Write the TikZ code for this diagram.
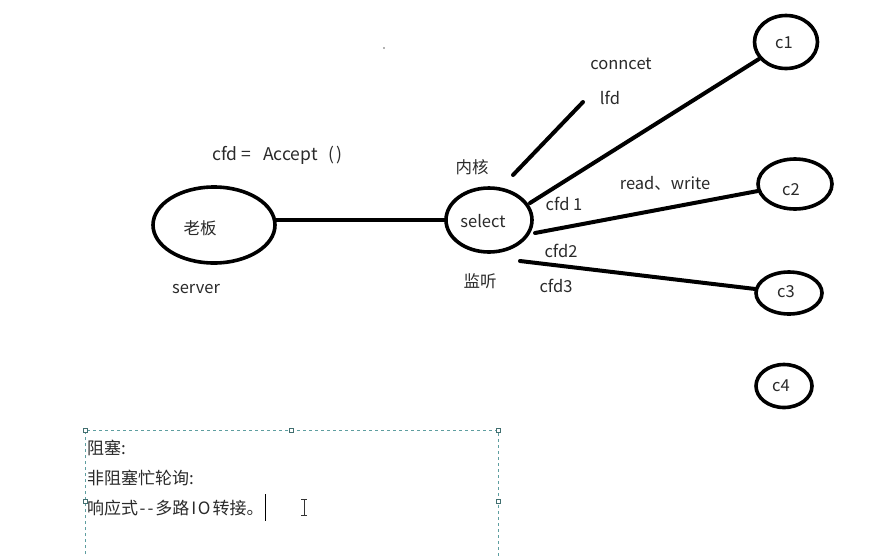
\documentclass[tikz,border=0pt]{standalone}
\usepackage{fontspec}
\setmainfont{Noto Sans CJK SC}
\usetikzlibrary{shapes.geometric}
\definecolor{txt}{HTML}{2A2A2A}
\definecolor{boxc}{HTML}{5E9EA0}
\begin{document}
\begin{tikzpicture}[x=1pt,y=-1pt,
  ell/.style={draw=black,line width=3.6pt,ellipse,inner sep=0pt},
  lbl/.style={text=txt,font=\fontsize{16.5}{19}\selectfont,inner sep=0pt},
  cn/.style={text=txt,font=\fontsize{17}{19}\selectfont,inner sep=0pt,anchor=west},
  wire/.style={line width=4pt,line cap=round},
  handle/.style={draw=boxc!70!black,fill=white,line width=0.6pt,minimum size=4pt,inner sep=0pt,rectangle}]
\useasboundingbox (0,0) rectangle (878,555);
\fill[white] (0,0) rectangle (878,555);
% ellipses
\node[ell,minimum width=122pt,minimum height=76pt] (boss) at (214,225) {};
\node[ell,minimum width=86pt,minimum height=64pt] (sel) at (489,220) {};
\node[ell,minimum width=63pt,minimum height=53pt] (c1) at (786,42) {};
\node[ell,minimum width=74pt,minimum height=50pt] (c2) at (795,184) {};
\node[ell,minimum width=66pt,minimum height=42pt] (c3) at (789,293) {};
\node[ell,minimum width=56pt,minimum height=43pt] (c4) at (784,386) {};
% labels in ellipses
\node[lbl] (tboss) at (200,228) {老板};
\node[lbl] (tsel) at (483,221) {select};
\node[lbl] (tc1) at (784,43) {c1};
\node[lbl] (tc2) at (791,190) {c2};
\node[lbl] (tc3) at (786,292) {c3};
\node[lbl] (tc4) at (781,386) {c4};
% other labels
\node[lbl,anchor=west,font=\fontsize{17.5}{19}\selectfont] (tacc) at (212,155) {cfd\hspace{4pt}=\hspace{12pt}Accept\hspace{11pt}(\hspace{2pt})};
\node[lbl] (tsrv) at (196,289) {server};
\node[lbl] (tcon) at (621,64) {conncet};
\node[lbl] (tlfd) at (610,98) {lfd};
\node[lbl] (tnh) at (472,167) {内核};
\node[lbl] (tcfd1) at (564,204) {cfd 1};
\node[lbl] (trw) at (665,183) {read、write};
\node[lbl] (tcfd2) at (561,251) {cfd2};
\node[lbl] (tjt) at (480,281) {监听};
\node[lbl] (tcfd3) at (556,286) {cfd3};
% connectors
\draw[wire] (boss.east |- sel.west) -- (sel.west);
\coordinate (la) at (513,175);
\coordinate (lb) at (583,102);
\draw[wire] (la) -- (lb);
\coordinate (s1) at (530,203);
\coordinate (s2) at (535,233);
\coordinate (s3) at (520,261);
\draw[wire] (s1) -- (c1);
\draw[wire] (s2) -- (c2);
\draw[wire] (s3) -- (c3);
\fill[black!60] (384,48) circle (0.8pt);
% text box
\draw[boxc,line width=0.7pt,dash pattern=on 3pt off 3pt] (85,560) -- (85,430) -- (498,430) -- (498,560);
\foreach \p/\n in {{(85,430)}/h1,{(291,430)}/h2,{(498,430)}/h3,{(85,501)}/h4,{(498,501)}/h5}
  \node[handle] (\n) at \p {};
\node[cn] (t1) at (87,448) {阻塞:};
\node[cn] (t2) at (87,478) {非阻塞忙轮询:};
\node[cn] (t3) at (87,508) {响应式\kern1.5pt-\kern2pt-\kern2pt多路\kern2pt I\kern1.5pt O\kern2pt转接。};
\draw[black,line width=0.9pt] (265,494) -- (265,521);
\draw[black!80,line width=0.8pt] (304,499) -- (304,515) (301,499) -- (307,499) (301,515) -- (307,515);
\end{tikzpicture}
\end{document}
